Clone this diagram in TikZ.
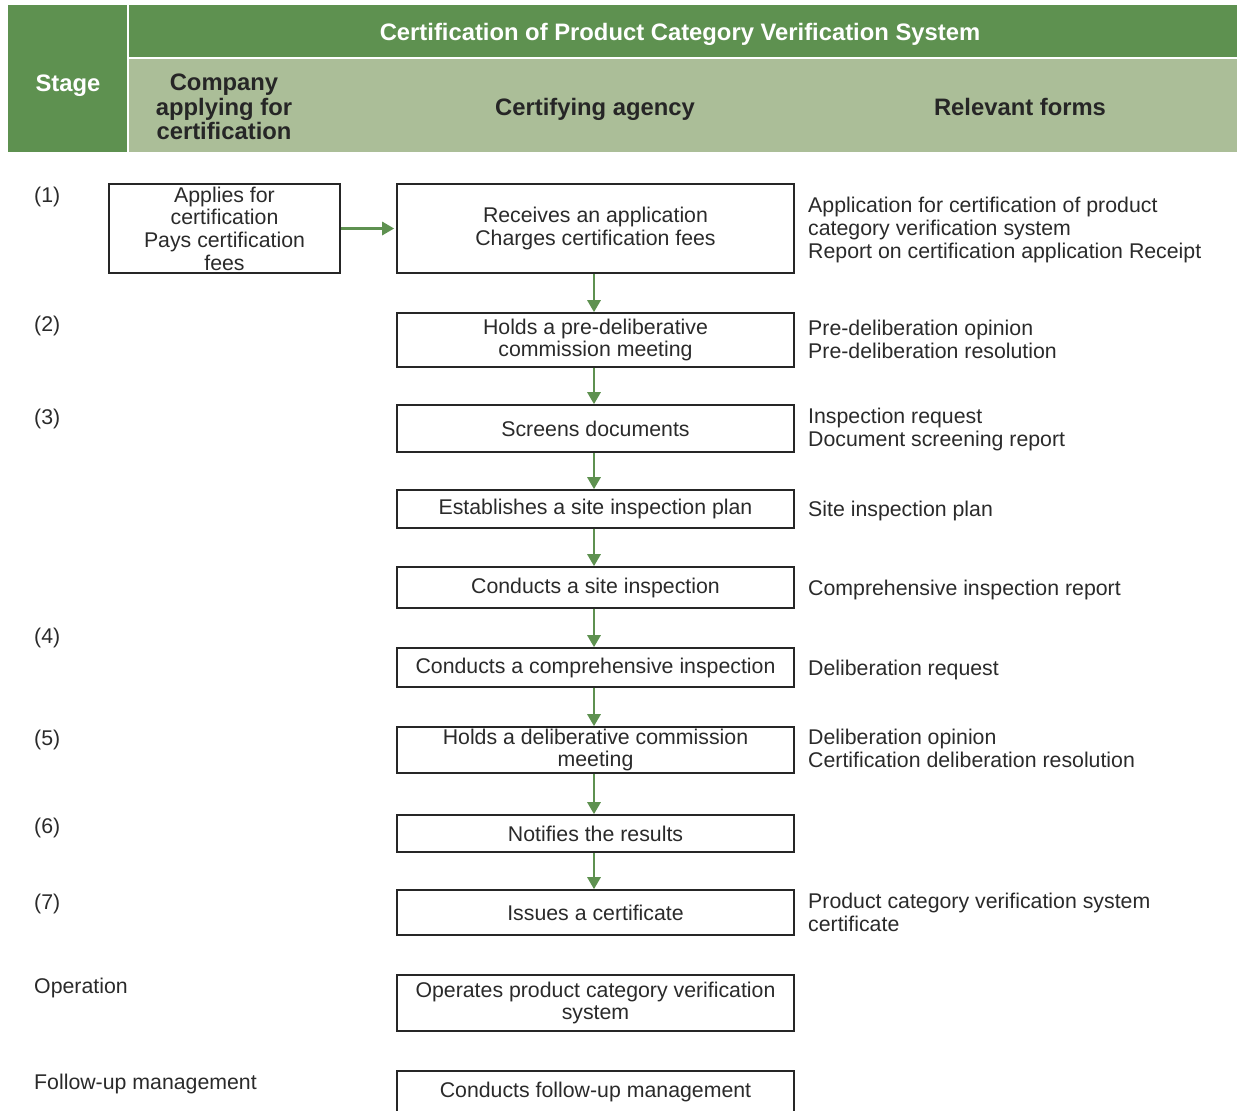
\documentclass[tikz,border=0pt]{standalone}
\usepackage{fontspec}
\setmainfont{Liberation Sans}
\usetikzlibrary{arrows.meta, positioning}
\definecolor{headDark}  {HTML}{5E9150}
\definecolor{headLight} {HTML}{ABBE98}
\definecolor{flowGreen} {HTML}{5E9150}
\definecolor{bodyText}  {HTML}{2A2A2A}
\begin{document}
\begin{tikzpicture}[x=1pt, y=-1pt,
    every node/.style={font=\fontsize{21.3}{22.7}\selectfont, text=bodyText},
    box/.style={draw=black!85, line width=1.6pt, rectangle, minimum width=397pt,
                align=center, inner sep=0pt},
    lab/.style={anchor=base west, align=left, inner sep=0pt},
    head/.style={font=\fontsize{23.8}{24.5}\selectfont\bfseries, align=center,
                 inner sep=0pt, anchor=base},
    arr/.style={-{Triangle[length=12pt, width=13pt]}, flowGreen, line width=2.8pt}
]
\useasboundingbox (0,0) rectangle (1237,1111);
% Header band
\fill[headDark] (8,5) rectangle (1237,152);
\fill[headLight] (128,59) rectangle (1237,152);
\draw[white, line width=2pt] (127.5,5) -- (127.5,152);
\draw[white, line width=2pt] (128,57.5) -- (1237,57.5);
\node[head, text=white] (title) at (680,40.5) {Certification of Product Category Verification System};
\node[head, text=white] (stage) at (68,91.5) {Stage};
\node[head, text=black!85] (company) at (224,139.5) {Company\\applying for\\certification};
\node[head, text=black!85] (agency) at (595,115.5) {Certifying agency};
\node[head, text=black!85] (forms) at (1020,115.5) {Relevant forms};
% Company column
\node[box, minimum width=231pt, minimum height=89pt] (apply) at (224.5,228.5)
    {Applies for\\certification\\Pays certification\\fees};
% Certifying agency column
\node[box, minimum height=89pt] (receive) at (595.5,228.5)
    {Receives an application\\Charges certification fees};
\node[box, minimum height=54pt] (predelib) at (595.5,340) {Holds a pre-deliberative\\commission meeting};
\node[box, minimum height=47pt] (screen) at (595.5,428.5) {Screens documents};
\node[box, minimum height=38pt] (plan) at (595.5,509) {Establishes a site inspection plan};
\node[box, minimum height=41pt] (site) at (595.5,587.5) {Conducts a site inspection};
\node[box, minimum height=39pt] (compre) at (595.5,667.5) {Conducts a comprehensive inspection};
\node[box, minimum height=46pt] (delib) at (595.5,750) {Holds a deliberative commission\\meeting};
\node[box, minimum height=37pt] (notify) at (595.5,833.5) {Notifies the results};
\node[box, minimum height=45pt] (issue) at (595.5,912.5) {Issues a certificate};
\node[box, minimum height=56pt] (operate) at (595.5,1003) {Operates product category verification\\system};
\node[box, minimum height=42pt] (follow) at (595.5,1092) {Conducts follow-up management};
% Arrows
\draw[arr] (apply.east) -- ([xshift=-2pt]receive.west);
\foreach \a/\b in {receive/predelib, predelib/screen, screen/plan, plan/site,
                   site/compre, compre/delib, delib/notify, notify/issue} {
    \draw[arr] ([xshift=-1.5pt]\a.south) -- ([xshift=-1.5pt]\b.north);
}
% Stage labels
\foreach \n/\y/\t in {s1/202/(1), s2/331/(2), s3/424/(3), s4/643/(4), s5/745/(5),
                      s6/833/(6), s7/909/(7), s8/993/Operation, s9/1089/Follow-up management} {
    \node[lab] (\n) at (34,\y) {\t};
}
% Relevant forms (anchored at the baseline of the last line)
\node[lab] (f1) at (808,258) {Application for certification of product\\category verification system\\Report on certification application Receipt};
\node[lab] (f2) at (808,358) {Pre-deliberation opinion\\Pre-deliberation resolution};
\node[lab] (f3) at (808,446) {Inspection request\\Document screening report};
\node[lab] (f4) at (808,516) {Site inspection plan};
\node[lab] (f5) at (808,595) {Comprehensive inspection report};
\node[lab] (f6) at (808,675) {Deliberation request};
\node[lab] (f7) at (808,767) {Deliberation opinion\\Certification deliberation resolution};
\node[lab] (f8) at (808,931) {Product category verification system\\certificate};
\end{tikzpicture}
\end{document}
